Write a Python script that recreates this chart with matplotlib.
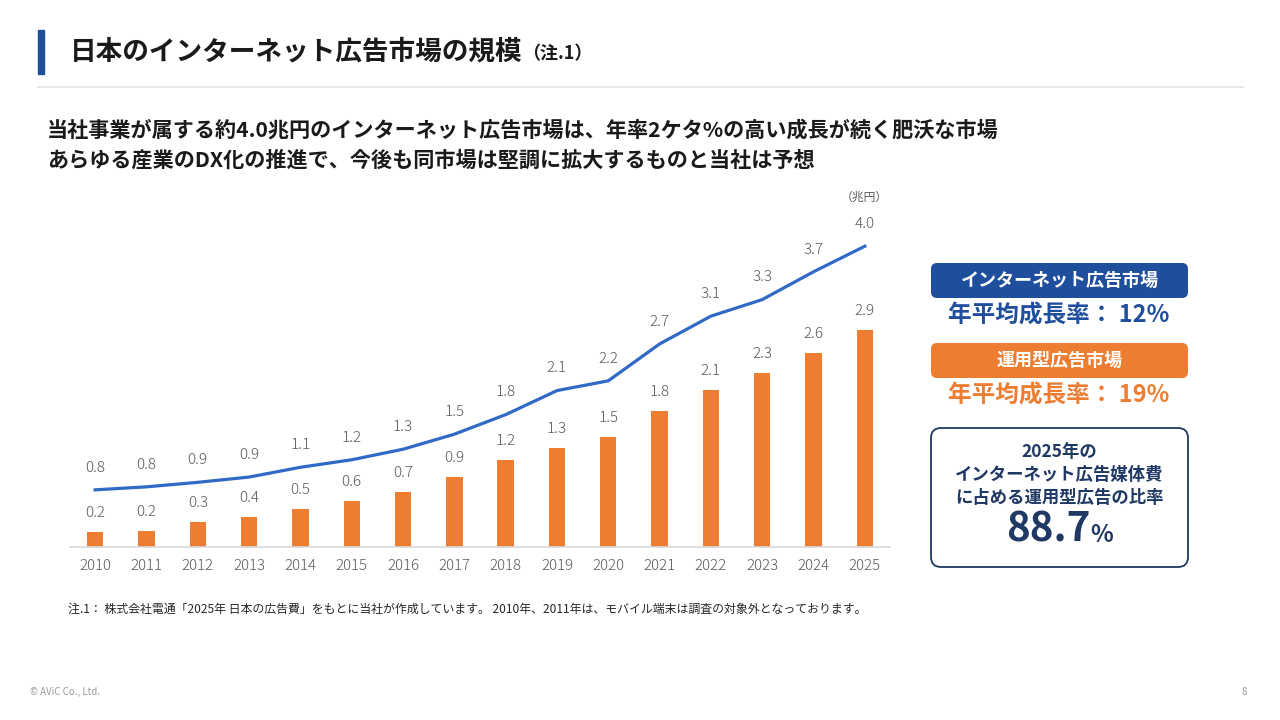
import matplotlib
matplotlib.use("Agg")
import matplotlib.pyplot as plt
from matplotlib.patches import FancyBboxPatch, Rectangle
import numpy as np

plt.rcParams['font.family'] = ['Noto Sans CJK JP', 'DejaVu Sans']

# data (兆円)
years = ['2010', '2011', '2012', '2013', '2014', '2015', '2016', '2017',
         '2018', '2019', '2020', '2021', '2022', '2023', '2024', '2025']
internet_ad = [0.76, 0.80, 0.86, 0.93, 1.06, 1.16, 1.30, 1.50,
               1.76, 2.08, 2.21, 2.70, 3.07, 3.29, 3.66, 4.00]
programmatic_ad = [0.20, 0.21, 0.33, 0.40, 0.50, 0.61, 0.73, 0.93,
                   1.16, 1.31, 1.46, 1.81, 2.09, 2.31, 2.58, 2.89]

BLUE = '#1F4E9C'
LINE_BLUE = '#3169C6'
ORANGE = '#ED7D31'
NAVY = '#1F3864'
GREY = '#595959'

W, H = 1280, 720
fig = plt.figure(figsize=(12.8, 7.2), dpi=100)
fig.patch.set_facecolor('white')


def fr(x0, y0, x1, y1):
    # pixel box -> figure fraction rect
    return [x0 / W, 1 - y1 / H, (x1 - x0) / W, (y1 - y0) / H]


# ---- chart ----
ax = fig.add_axes(fr(70, 200, 890, 547))
x = np.arange(len(years))
ax.bar(x, programmatic_ad, width=0.32, color=ORANGE, zorder=2)
ax.plot(x, internet_ad, color=LINE_BLUE, lw=2.3, zorder=3)

for i in range(len(years)):
    ax.annotate(f'{programmatic_ad[i]:.1f}', (x[i], programmatic_ad[i]),
                xytext=(0, 13.7), textcoords='offset points',
                ha='center', va='center', fontsize=11, fontweight='light', color=GREY)
    ax.annotate(f'{internet_ad[i]:.1f}', (x[i], internet_ad[i]),
                xytext=(0, 16), textcoords='offset points',
                ha='center', va='center', fontsize=11, fontweight='light', color=GREY)

ax.set_xlim(-0.49, len(years) - 0.51)
ax.set_ylim(0, (547 - 200) / 75.2)
ax.set_xticks(x)
ax.set_xticklabels(years, fontsize=10.8, fontweight='light', color=GREY)
ax.tick_params(axis='x', length=0, pad=9)
ax.set_yticks([])
for s in ['top', 'right', 'left']:
    ax.spines[s].set_visible(False)
ax.spines['bottom'].set_color('#D9D9D9')
ax.spines['bottom'].set_linewidth(1.2)
ax.patch.set_alpha(0)

# ---- overlay in pixel coordinates ----
ov = fig.add_axes([0, 0, 1, 1])
ov.set_xlim(0, W)
ov.set_ylim(H, 0)
ov.axis('off')
ov.patch.set_alpha(0)

ov.add_patch(Rectangle((38, 30), 6, 44, color=BLUE))
ov.plot([38, 1243], [87, 87], color='#E3E3E3', lw=1.2)
ov.text(70, 52, '日本のインターネット広告市場の規模', fontsize=19.2, fontweight='bold',
        color='#1A1A1A', va='center', ha='left')
ov.text(522, 54, '（注.1）', fontsize=13, fontweight='bold', color='#1A1A1A',
        va='center', ha='left')

ov.text(47, 130, '当社事業が属する約4.0兆円のインターネット広告市場は、年率2ケタ%の高い成長が続く肥沃な市場',
        fontsize=15.2, fontweight='bold', color='#1A1A1A', va='center', ha='left')
ov.text(47, 160, 'あらゆる産業のDX化の推進で、今後も同市場は堅調に拡大するものと当社は予想',
        fontsize=15.2, fontweight='bold', color='#1A1A1A', va='center', ha='left')

ov.text(864, 197, '（兆円）', fontsize=8.5, color=GREY, va='center', ha='center')

# right panel
ov.add_patch(FancyBboxPatch((931, 263), 257, 35, boxstyle='round,pad=0,rounding_size=6',
                            facecolor=BLUE, edgecolor='none'))
ov.text(1059.5, 280.5, 'インターネット広告市場', fontsize=13, fontweight='bold',
        color='white', va='center', ha='center')
ov.text(1059, 316, '年平均成長率： 12%', fontsize=17, fontweight='bold',
        color=BLUE, va='center', ha='center')

ov.add_patch(FancyBboxPatch((931, 343), 257, 35, boxstyle='round,pad=0,rounding_size=6',
                            facecolor=ORANGE, edgecolor='none'))
ov.text(1059.5, 360.5, '運用型広告市場', fontsize=13, fontweight='bold',
        color='white', va='center', ha='center')
ov.text(1059, 396, '年平均成長率： 19%', fontsize=17, fontweight='bold',
        color=ORANGE, va='center', ha='center')

ov.add_patch(FancyBboxPatch((931, 428), 257, 139, boxstyle='round,pad=0,rounding_size=10',
                            facecolor='white', edgecolor=NAVY, lw=1.3))
ov.text(1059.5, 452, '2025年の', fontsize=12.5, fontweight='bold', color=NAVY,
        va='center', ha='center')
ov.text(1059.5, 475, 'インターネット広告媒体費', fontsize=12.5, fontweight='bold', color=NAVY,
        va='center', ha='center')
ov.text(1059.5, 498, 'に占める運用型広告の比率', fontsize=12.5, fontweight='bold', color=NAVY,
        va='center', ha='center')
ov.text(1090, 530, '88.7', fontsize=29, fontweight='bold', color=NAVY,
        va='center', ha='right')
ov.text(1090, 535, '%', fontsize=17, fontweight='bold', color=NAVY,
        va='center', ha='left')

# footnote / footer
ov.text(68, 609, '注.1： 株式会社電通「2025年 日本の広告費」をもとに当社が作成しています。 2010年、2011年は、モバイル端末は調査の対象外となっております。',
        fontsize=8.6, color='#262626', va='center', ha='left')
ov.text(30, 692, '© AViC Co., Ltd.', fontsize=7, color='#9A9A9A', va='center', ha='left')
ov.text(1247, 692, '8', fontsize=7, color='#9A9A9A', va='center', ha='right')

fig.savefig('out.png', dpi=100, facecolor='white')
